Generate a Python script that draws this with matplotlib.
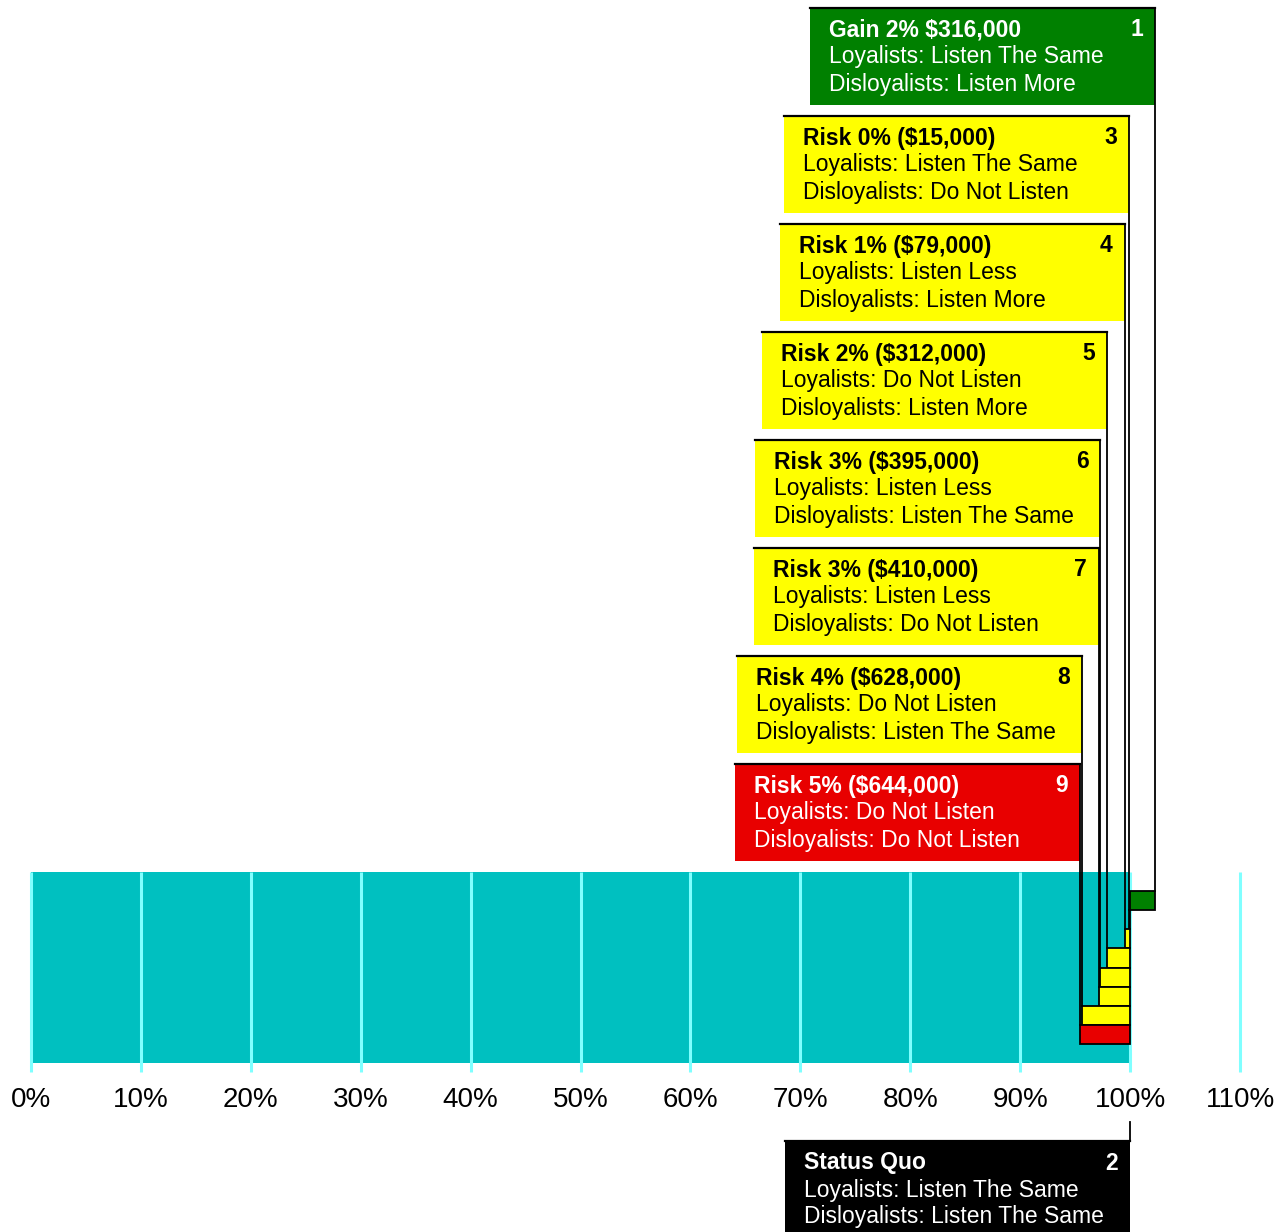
import matplotlib
matplotlib.use('Agg')
import matplotlib.pyplot as plt
import matplotlib.transforms as mtransforms
from matplotlib.patches import Rectangle

plt.rcParams['font.family'] = ['Liberation Sans', 'DejaVu Sans']
plt.rcParams['text.parse_math'] = False

# scenarios in the order of their number
order = [1, 2, 3, 4, 5, 6, 7, 8, 9]
titles = ['Gain 2% $316,000', 'Status Quo', 'Risk 0% ($15,000)', 'Risk 1% ($79,000)',
          'Risk 2% ($312,000)', 'Risk 3% ($395,000)', 'Risk 3% ($410,000)',
          'Risk 4% ($628,000)', 'Risk 5% ($644,000)']
loyal = ['Listen The Same', 'Listen The Same', 'Listen The Same', 'Listen Less',
         'Do Not Listen', 'Listen Less', 'Listen Less', 'Do Not Listen', 'Do Not Listen']
disloyal = ['Listen More', 'Listen The Same', 'Do Not Listen', 'Listen More',
            'Listen More', 'Listen The Same', 'Do Not Listen', 'Listen The Same',
            'Do Not Listen']
change = [2.3, 0.0, -0.1, -0.5, -2.1, -2.7, -2.85, -4.4, -4.55]   # % vs status quo
rows = [1, 9, 2, 3, 4, 5, 6, 7, 8]
base = 100
ticks = list(range(0, 111, 10))

YEL = '#FFFF00'
box_colors = ['#008000', '#000000', YEL, YEL, YEL, YEL, YEL, YEL, '#E80000']
text_colors = ['white', 'white', 'black', 'black', 'black', 'black', 'black', 'black', 'white']

W, H, DPI = 1287, 1232, 100
fig = plt.figure(figsize=(W / DPI, H / DPI), dpi=DPI)
x0, x1 = 31, 1240          # pixel position of 0% and 110%
ytop, ybot = 872, 1072
ax = fig.add_axes([x0 / W, 1 - ybot / H, (x1 - x0) / W, (ybot - ytop) / H])
ax.set_xlim(0, 110)
ax.set_ylim(9.97, -0.5)
for s in ax.spines.values():
  s.set_visible(False)
ax.set_yticks([])
ax.set_xticks(ticks)
ax.set_xticklabels([str(t) + '%' for t in ticks], fontsize=20)
ax.tick_params(axis='x', length=0, pad=11)

ax.barh(4.5, base, height=10, left=0, color='#00C0C0', zorder=1)
ax.vlines(ticks, -0.5, 9.97, color='#80FFFF', lw=2.2, zorder=2, clip_on=False)
for i in range(len(order)):
  if change[i] == 0:
    continue
  ax.barh(rows[i], change[i], height=1.0, left=base, color=box_colors[i],
          edgecolor='black', lw=1.3, zorder=3)

# y in figure pixels from the top, x in data
pix = mtransforms.Affine2D().scale(1 / DPI, -1 / DPI).translate(0, H / DPI) + fig.dpi_scale_trans
trans = mtransforms.blended_transform_factory(ax.transData, pix)
pxu = 110 / (x1 - x0)
bw, bh = 345 * pxu, 95

def row_top_px(r):
  return H - ax.transData.transform((0, r - 0.5))[1]

k = 0
for i in range(len(order)):
  xr = base + change[i]
  if titles[i] == 'Status Quo':
    top = 1141
    y_end = 1122
  else:
    top = 8 + 108 * k
    k += 1
    y_end = row_top_px(rows[i])
  left = xr - bw
  ax.add_patch(Rectangle((left, top), bw, bh + 2, transform=trans, clip_on=False,
                         facecolor=box_colors[i], edgecolor='none', zorder=5))
  ax.plot([left, xr], [top, top], transform=trans, clip_on=False, color='black', lw=1.6, zorder=6)
  ax.plot([xr, xr], [top, y_end], transform=trans, clip_on=False, color='black', lw=1.3, zorder=6)
  c = text_colors[i]
  ax.text(left + 19 * pxu, top + 22, titles[i], transform=trans, fontsize=16.5,
          fontweight='bold', color=c, va='center', ha='left', zorder=7)
  ax.text(xr - 12 * pxu, top + 22, str(order[i]), transform=trans, fontsize=16.5,
          fontweight='bold', color=c, va='center', ha='right', zorder=7)
  ax.text(left + 19 * pxu, top + 49, 'Loyalists: ' + loyal[i], transform=trans,
          fontsize=16.5, color=c, va='center', ha='left', zorder=7)
  ax.text(left + 19 * pxu, top + 76, 'Disloyalists: ' + disloyal[i], transform=trans,
          fontsize=16.5, color=c, va='center', ha='left', zorder=7)

fig.savefig('out.png', dpi=DPI)
